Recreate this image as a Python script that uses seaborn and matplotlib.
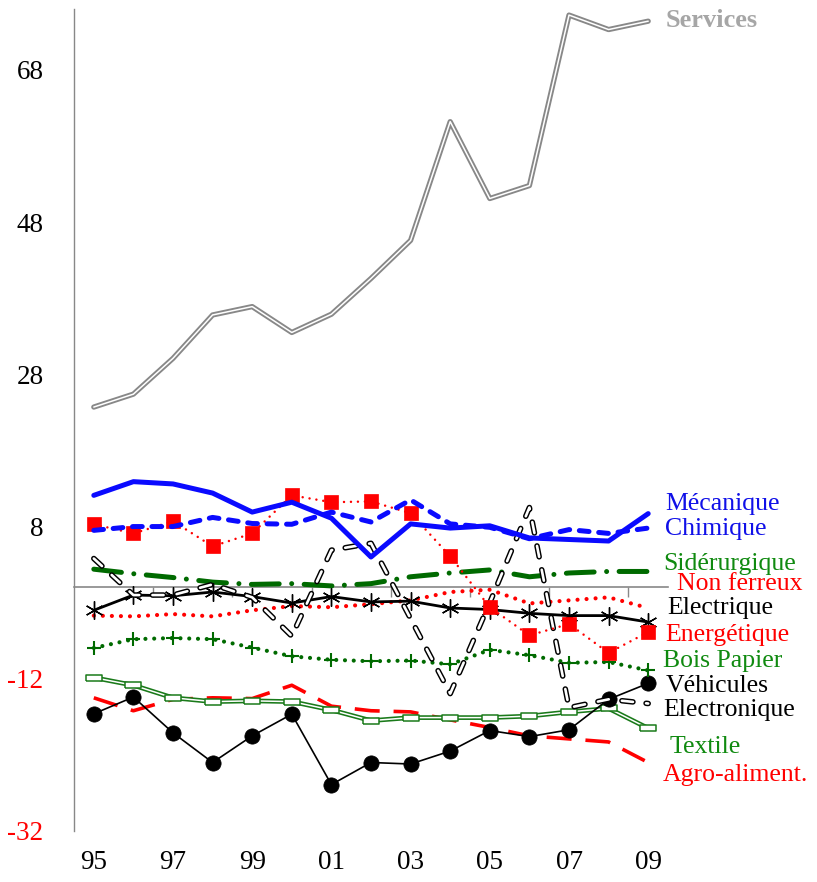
"""Evolution par secteur (1995-2009) - courbes multiples, style Excel."""
import matplotlib
matplotlib.use("Agg")
import matplotlib.pyplot as plt
import pandas as pd
import seaborn as sns

# ── data ───────────────────────────────────────────────────────────────────
YEARS = ["95", "96", "97", "98", "99", "00", "01", "02",
         "03", "04", "05", "06", "07", "08", "09"]

services     = [23.7, 25.4, 30.1, 35.8, 36.9, 33.5, 35.9, 40.6, 45.6, 61.2, 51.1, 52.8, 75.2, 73.3, 74.4]
mecanique    = [12.1, 13.9, 13.6, 12.4, 9.9, 11.2, 9.1, 4.0, 8.35, 7.8, 8.1, 6.5, 6.3, 6.1, 9.7]
chimique     = [7.5, 8.0, 8.0, 9.2, 8.4, 8.3, 9.9, 8.6, 11.5, 8.35, 7.9, 6.4, 7.6, 7.1, 7.8]
siderurgique = [2.4, 1.8, 1.3, 0.7, 0.4, 0.5, 0.2, 0.5, 1.4, 1.9, 2.3, 1.4, 1.9, 2.1, 2.1]
non_ferreux  = [-3.7, -3.8, -3.5, -3.8, -3.0, -2.45, -2.6, -2.2, -1.7, -0.6, -0.3, -2.1, -1.7, -1.3, -2.7]
electrique   = [-3.0, -1.0, -1.1, -0.6, -1.2, -2.05, -1.2, -1.9, -1.8, -2.7, -2.9, -3.4, -3.7, -3.7, -4.55]
energetique  = [8.3, 7.1, 8.7, 5.4, 7.1, 12.1, 11.2, 11.3, 9.75, 4.1, -2.6, -6.3, -4.8, -8.6, -5.85]
bois_papier  = [-7.95, -6.8, -6.65, -6.8, -7.9, -9.05, -9.5, -9.7, -9.6, -10.1, -8.2, -8.9, -9.9, -9.8, -10.9]
vehicules    = [-16.6, -14.4, -19.1, -23.0, -19.5, -16.65, -25.9, -23.0, -23.2, -21.5, -18.8, -19.6, -18.7, -14.7, -12.6]
electronique = [3.8, -1.0, -1.0, 0.4, -1.3, -6.4, 4.9, 5.8, -4.1, -13.95, -2.0, 10.5, -15.8, -14.7, -15.25]
textile      = [-11.85, -12.85, -14.5, -15.0, -14.9, -15.0, -16.1, -17.5, -17.1, -17.1, -17.1, -16.9, -16.35, -15.9, -18.5]
agro         = [-14.5, -16.2, -14.7, -14.5, -14.6, -12.85, -15.6, -16.2, -16.35, -17.4, -18.4, -19.5, -19.9, -20.3, -23.0]

# label text, y position (data units) and colour of each end label
LABELS = [
    ("Mécanique", 11.0, "#1010e8"),
    ("Chimique", 7.7, "#1010e8"),
    ("Sidérurgique", 3.1, "#108a10"),
    ("Non ferreux", 0.4, "#ff0000"),
    ("Electrique", -2.75, "black"),
    ("Energétique", -6.2, "#ff0000"),
    ("Bois Papier", -9.6, "#108a10"),
    ("Véhicules", -13.0, "black"),
    ("Electronique", -16.1, "black"),
    ("Textile", -20.9, "#108a10"),
    ("Agro-aliment.", -24.7, "#ff0000"),
]
LABEL_X = [14.43, 14.43, 14.38, 14.72, 14.48, 14.43, 14.38, 14.43, 14.38, 14.53, 14.38]

YMIN, YMAX = -32, 76
BLUE, RED, GREEN, GRAY = "#0a0aff", "#ff0000", "#006a00", "#888888"


def _frame(values):
    return pd.DataFrame({"annee": range(len(YEARS)), "valeur": values})


def _line(ax, values, **kws):
    sns.lineplot(data=_frame(values), x="annee", y="valeur", ax=ax, **kws)


# ── plot ───────────────────────────────────────────────────────────────────
sns.set_theme(style="white")
plt.rcParams["font.family"] = ["Liberation Serif", "DejaVu Serif"]
plt.rcParams["lines.scale_dashes"] = False
plt.rcParams["axes.unicode_minus"] = False

fig = plt.figure(figsize=(8.17, 8.82), dpi=100)
ax = fig.add_axes([74 / 817, (882 - 831) / 882, (668 - 74) / 817, (831 - 9) / 882])

# Services: grey double line
_line(ax, services, color=GRAY, lw=3.8)
_line(ax, services, color="white", lw=1.1)

_line(ax, agro, color=RED, lw=2.6, ls=(0, (18, 10)))

# Textile: green double line with hollow flat boxes
box = [(-1, -0.32), (1, -0.32), (1, 0.32), (-1, 0.32), (-1, -0.32)]
_line(ax, textile, color="#1a7a1a", lw=3.4)
_line(ax, textile, color="white", lw=1.1, marker=box, markersize=12,
      markerfacecolor="white", markeredgecolor="#1a7a1a", markeredgewidth=1.1)

_line(ax, vehicules, color="black", lw=1.2, marker="o", markersize=11,
      markerfacecolor="black", markeredgecolor="black", markeredgewidth=0.5)

_line(ax, bois_papier, color=GREEN, lw=3.0, ls=(0, (0.01, 6.3)),
      dash_capstyle="round", marker="+", markersize=10,
      markeredgecolor=GREEN, markeredgewidth=1.5)

_line(ax, non_ferreux, color=RED, lw=3.0, ls=(0, (0.01, 6.5)), dash_capstyle="round")

_line(ax, siderurgique, color=GREEN, lw=3.6, ls=(0, (20, 9, 0.01, 9)),
      dash_capstyle="round")

_line(ax, electrique, color="black", lw=2.0, marker=(6, 2, 0), markersize=13,
      markeredgecolor="black", markeredgewidth=1.0)

# Electronique: black-outlined white dashes
_line(ax, electronique, color="black", lw=4.0, ls=(0, (8, 9.5)), dash_capstyle="round")
_line(ax, electronique, color="white", lw=1.9, ls=(0, (8, 9.5)), dash_capstyle="round")

_line(ax, energetique, color=RED, lw=1.8, ls=(0, (0.01, 5)), dash_capstyle="round",
      marker="s", markersize=10.5, markerfacecolor=RED,
      markeredgecolor=RED, markeredgewidth=0.5)

_line(ax, chimique, color=BLUE, lw=3.6, ls=(0, (7, 7)), dash_capstyle="round")
_line(ax, mecanique, color=BLUE, lw=3.6)

# ── axes ───────────────────────────────────────────────────────────────────
ax.set_xlim(-0.5, len(YEARS) - 0.5)
ax.set_ylim(YMIN, YMAX)
ax.set_xlabel("")
ax.set_ylabel("")

for side in ("top", "right", "bottom"):
    ax.spines[side].set_visible(False)
ax.spines["left"].set_color(GRAY)
ax.spines["left"].set_linewidth(1.0)

ax.set_yticks(range(YMIN, 69, 20))
ax.tick_params(axis="y", direction="out", length=8, width=1, color=GRAY,
               pad=14, labelsize=19.5)
for lab in ax.get_yticklabels():
    lab.set_color(RED if lab.get_text().startswith("-") else "black")

ax.set_xticks(range(0, len(YEARS), 2))
ax.set_xticklabels(YEARS[::2])
ax.tick_params(axis="x", length=0, pad=14, labelsize=19.5, labelcolor="black")

# zero line with category tick marks
zero = ax.secondary_xaxis((0 - YMIN) / (YMAX - YMIN))
zero.set_xticks([i + 0.5 for i in range(1, len(YEARS) - 1, 2)])
zero.set_xticklabels([])
zero.spines["bottom"].set_color(GRAY)
zero.spines["bottom"].set_linewidth(1.2)
zero.tick_params(axis="x", direction="out", length=7, width=1, color=GRAY)

# end labels
ax.text(14.43, 74.5, "Services", color="#a6a6a6", fontsize=19, fontweight="bold",
        va="center", ha="left", clip_on=False)
for (text, y, colour), x in zip(LABELS, LABEL_X):
    ax.text(x, y, text, color=colour, fontsize=18.5, va="center", ha="left",
            clip_on=False)

fig.savefig("out.png", dpi=100)
